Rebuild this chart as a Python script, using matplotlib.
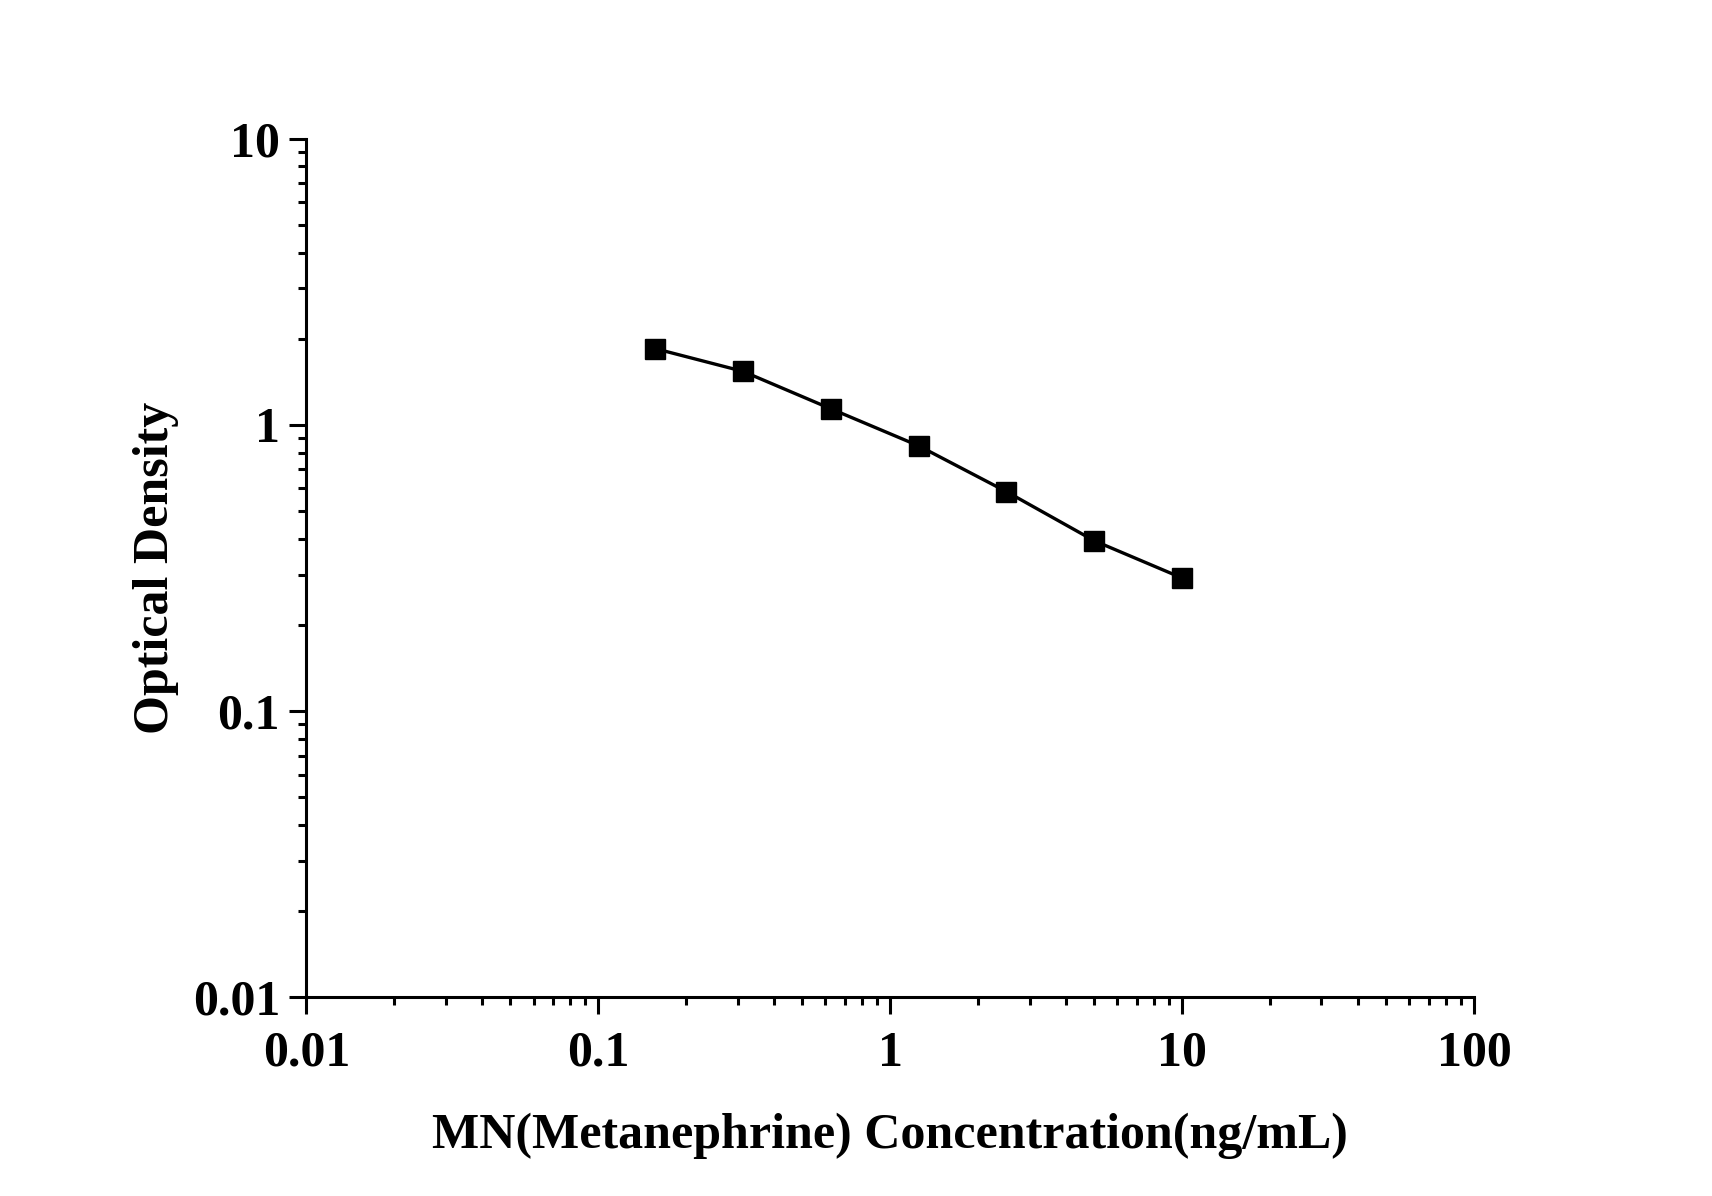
import numpy as np
import matplotlib
matplotlib.use('Agg')
import matplotlib.pyplot as plt
from matplotlib.ticker import LogLocator, FixedLocator, FixedFormatter, NullFormatter

conc = [0.156, 0.3125, 0.625, 1.25, 2.5, 5, 10]
od = [1.85, 1.54, 1.14, 0.846, 0.585, 0.394, 0.292]

x_ticks = [0.01, 0.1, 1, 10, 100]
x_labels = ['0.01', '0.1', '1', '10', '100']
y_ticks = [0.01, 0.1, 1, 10]
y_labels = ['0.01', '0.1', '1', '10']

plt.rcParams['font.family'] = ['Liberation Serif', 'DejaVu Serif']
plt.rcParams['font.weight'] = 'bold'

fig = plt.figure(figsize=(17.12, 11.96), dpi=100)
ax = fig.add_axes([0.179, 0.166, 0.682, 0.718])

ax.plot(conc, od, color='black', lw=2.4, marker='s', markersize=14, zorder=3)

ax.set_xscale('log')
ax.set_yscale('log')
ax.set_xlim(0.01, 100)
ax.set_ylim(0.01, 10)

ax.xaxis.set_major_locator(FixedLocator(x_ticks))
ax.xaxis.set_major_formatter(FixedFormatter(x_labels))
ax.yaxis.set_major_locator(FixedLocator(y_ticks))
ax.yaxis.set_major_formatter(FixedFormatter(y_labels))
ax.xaxis.set_minor_locator(LogLocator(base=10, subs=np.arange(2, 10)))
ax.yaxis.set_minor_locator(LogLocator(base=10, subs=np.arange(2, 10)))
ax.xaxis.set_minor_formatter(NullFormatter())
ax.yaxis.set_minor_formatter(NullFormatter())

for side in ['top', 'right']:
    ax.spines[side].set_visible(False)
for side in ['left', 'bottom']:
    ax.spines[side].set_linewidth(2.2)

ax.tick_params(which='major', direction='out', length=12, width=2.2, labelsize=36)
ax.tick_params(which='minor', direction='out', length=6, width=2.2)
ax.tick_params(axis='x', which='major', pad=12)
ax.tick_params(axis='y', which='major', pad=7)

ax.set_xlabel('MN(Metanephrine) Concentration(ng/mL)', fontsize=36, fontweight='bold', labelpad=26)
ax.set_ylabel('Optical Density', fontsize=36, fontweight='bold', labelpad=10)

fig.savefig('out.png', dpi=100)
